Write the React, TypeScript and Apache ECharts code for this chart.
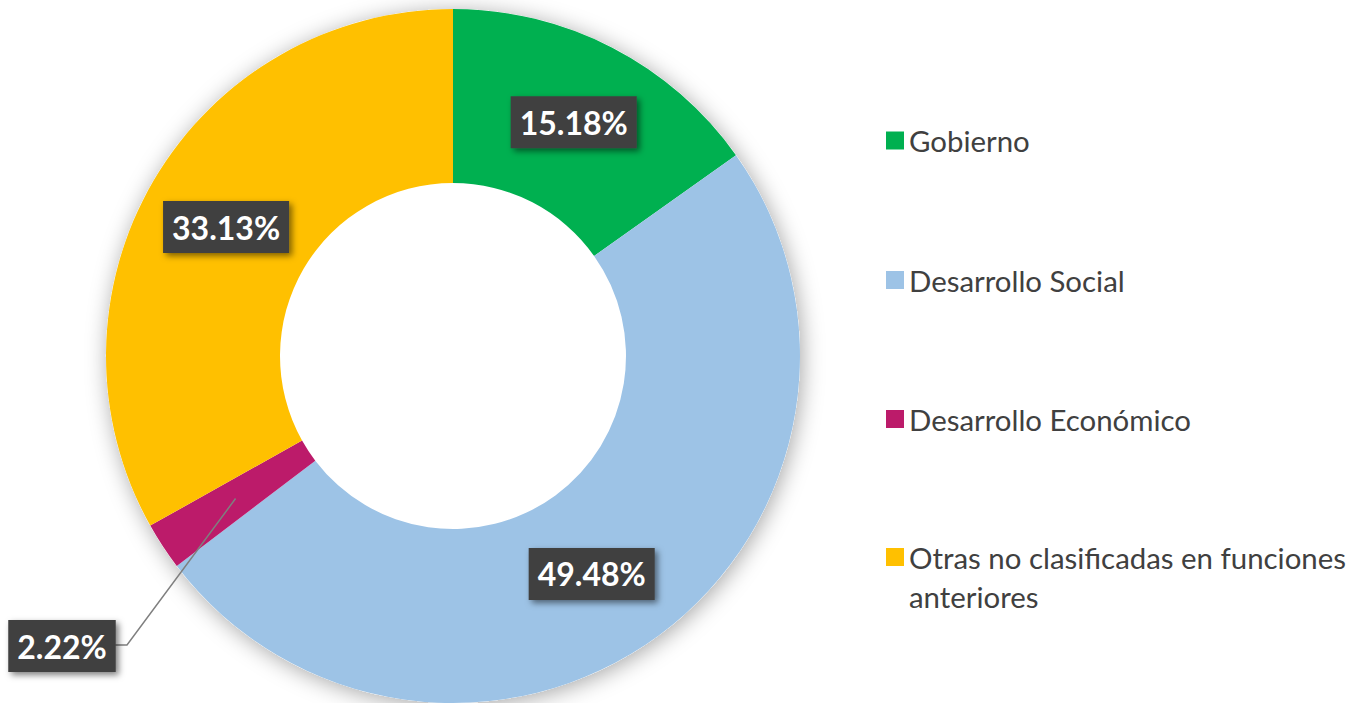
import React, { useEffect, useRef } from "react";
import * as echarts from "echarts";

const categories = [
  "Gobierno",
  "Desarrollo Social",
  "Desarrollo Económico",
  "Otras no clasificadas en funciones anteriores",
];
const values = [15.18, 49.48, 2.22, 33.13];
const colors = ["#00B050", "#9DC3E6", "#BC1B6A", "#FFC000"];
const legendLabels = [
  "Gobierno",
  "Desarrollo Social",
  "Desarrollo Económico",
  "\nOtras no clasificadas en funciones\nanteriores",
];

const CX = 453;
const CY = 356;
const R_IN = 173;
const R_OUT = 347;

export default function App() {
  const ref = useRef<HTMLDivElement>(null);
  useEffect(() => {
    if (!ref.current) return;
    const chart = echarts.init(ref.current, undefined, { renderer: "svg" });
    const total = values.reduce((a, b) => a + b, 0);
    const before = values.slice(0, 2).reduce((a, b) => a + b, 0);
    const midFrac = (before + values[2] / 2) / total;
    const ang = midFrac * Math.PI * 2;
    const rMid = (R_IN + R_OUT) / 2;
    const startPt = [CX + rMid * Math.sin(ang), CY - rMid * Math.cos(ang)];

    const legendCenters = [140.5, 280, 419, 557];
    const LH = 39;
    const legends = categories.map((c, i) => {
      const lines = legendLabels[i].split("\n").length;
      return {
        show: true,
        data: [c],
        orient: "vertical",
        left: 886,
        top: legendCenters[i] - (LH * lines) / 2,
        padding: 0,
        itemWidth: 18,
        itemHeight: 18,
        icon: "rect",
        selectedMode: false,
        formatter: () => legendLabels[i],
        textStyle: {
          fontFamily: "Lato",
          fontSize: 29.4,
          color: "#404040",
          lineHeight: LH,
        },
      };
    });

    const labelBase = {
      color: "#FFFFFF",
      fontFamily: "Lato",
      fontWeight: "bold",
      fontSize: 32,
      lineHeight: 36,
      backgroundColor: "#404040",
      padding: [8, 9, 8, 9],
      shadowColor: "rgba(0,0,0,0.5)",
      shadowBlur: 6,
      shadowOffsetX: 3,
      shadowOffsetY: 3,
      formatter: (p: any) => p.value.toFixed(2) + "%",
    };

    const mainData = categories.map((c, i) => {
      const item: any = { name: c, value: values[i], itemStyle: { color: colors[i] } };
      if (i === 1) item.label = { offset: [-17, 6] };
      if (i === 3) item.label = { offset: [0, 4] };
      if (i === 2) item.label = { show: false };
      return item;
    });

    const overlayData = categories.map((c, i) => {
      const item: any = { name: c, value: values[i] };
      if (i === 2) {
        item.label = { show: true, position: "outside" };
        item.labelLine = {
          show: true,
          lineStyle: { color: "#7F7F7F", width: 1.5 },
        };
      }
      return item;
    });

    chart.setOption({
      animation: false,
      backgroundColor: "#FFFFFF",
      legend: legends,
      series: [
        {
          type: "pie",
          silent: true,
          center: [CX, CY],
          radius: [0, R_OUT],
          label: { show: false },
          labelLine: { show: false },
          itemStyle: {
            color: "#FFFFFF",
            shadowBlur: 22,
            shadowColor: "rgba(0,0,0,0.35)",
            shadowOffsetX: 2,
            shadowOffsetY: 3,
          },
          data: [{ name: "__bg", value: 1 }],
          z: 1,
        },
        {
          type: "pie",
          center: [CX, CY],
          radius: [R_IN, R_OUT],
          startAngle: 90,
          clockwise: true,
          avoidLabelOverlap: false,
          z: 2,
          label: { show: true, position: "inside", ...labelBase },
          labelLine: { show: false },
          data: mainData,
        },
        {
          type: "pie",
          silent: true,
          center: [CX, CY],
          radius: [R_IN, R_OUT],
          startAngle: 90,
          clockwise: true,
          avoidLabelOverlap: false,
          z: 3,
          itemStyle: { color: "rgba(0,0,0,0)" },
          label: { show: false, ...labelBase },
          labelLine: { show: false },
          labelLayout: (params: any) => {
            if (params.dataIndex !== 2) return {};
            return {
              x: 62,
              y: 646,
              align: "center",
              verticalAlign: "middle",
              labelLinePoints: [startPt, [127, 645], [115, 645]],
            };
          },
          data: overlayData,
        },
      ],
    });
    return () => chart.dispose();
  }, []);
  return (
    <div
      ref={ref}
      style={{ position: "absolute", left: 0, top: 0, width: 1353, height: 703 }}
    />
  );
}
